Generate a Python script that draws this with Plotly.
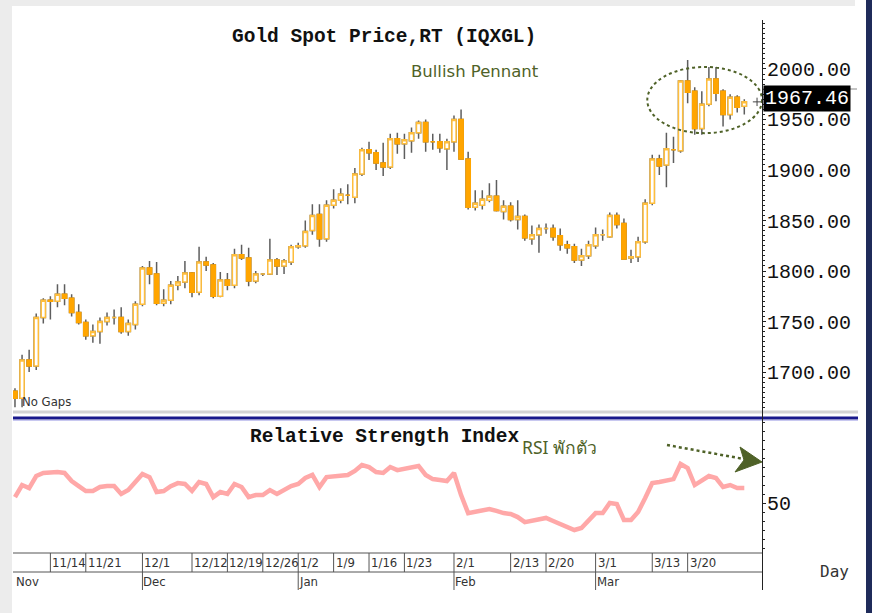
import plotly.graph_objects as go

W, H = 872, 613

# ---------------- data ----------------
opens = [1681, 1674, 1712, 1706, 1754, 1771, 1770, 1777, 1773, 1759,
         1749, 1736, 1740, 1750, 1754, 1754, 1740, 1747, 1767, 1803,
         1797, 1768, 1771, 1786, 1789, 1798, 1779, 1809, 1806, 1775,
         1791, 1786, 1816, 1813, 1790, 1797, 1797, 1811, 1805, 1809,
         1824, 1825, 1840, 1856, 1832, 1865, 1870, 1875, 1873, 1896,
         1920, 1917, 1907, 1903, 1931, 1926, 1929, 1937, 1947, 1928,
         1928, 1921, 1928, 1950, 1911, 1863, 1865, 1870, 1874, 1859,
         1864, 1851, 1854, 1832, 1836, 1842, 1842, 1835, 1826, 1824,
         1811, 1815, 1825, 1836, 1834, 1855, 1847, 1813, 1814, 1829,
         1867, 1911, 1905, 1920, 1919, 1988, 1978, 1941, 1965, 1990,
         1978, 1955, 1972, 1963]
highs = [1684, 1717, 1722, 1758, 1773, 1775, 1787, 1787, 1777, 1767,
         1752, 1747, 1754, 1759, 1762, 1764, 1752, 1770, 1805, 1810,
         1809, 1782, 1790, 1795, 1810, 1799, 1824, 1814, 1808, 1799,
         1798, 1822, 1826, 1823, 1800, 1798, 1832, 1813, 1812, 1826,
         1828, 1850, 1866, 1866, 1870, 1881, 1882, 1886, 1902, 1922,
         1928, 1920, 1927, 1936, 1937, 1936, 1942, 1949, 1950, 1936,
         1936, 1931, 1954, 1960, 1918, 1880, 1880, 1887, 1890, 1870,
         1868, 1870, 1856, 1845, 1846, 1847, 1846, 1842, 1830, 1827,
         1822, 1830, 1843, 1841, 1858, 1858, 1852, 1821, 1834, 1871,
         1915, 1915, 1937, 1933, 1989, 2009, 1982, 1978, 2002, 2002,
         1980, 1975, 1974, 1970]
lows = [1665, 1665, 1700, 1702, 1748, 1752, 1764, 1766, 1755, 1747,
        1732, 1729, 1728, 1746, 1747, 1738, 1736, 1742, 1765, 1787,
        1766, 1765, 1767, 1781, 1783, 1774, 1776, 1800, 1773, 1774,
        1781, 1783, 1811, 1785, 1788, 1795, 1796, 1796, 1797, 1806,
        1822, 1823, 1836, 1824, 1829, 1862, 1867, 1866, 1867, 1894,
        1910, 1900, 1894, 1901, 1916, 1911, 1917, 1931, 1918, 1920,
        1917, 1900, 1918, 1911, 1861, 1860, 1861, 1868, 1859, 1851,
        1849, 1841, 1830, 1826, 1818, 1837, 1830, 1820, 1817, 1808,
        1805, 1812, 1822, 1830, 1833, 1842, 1812, 1808, 1809, 1827,
        1865, 1895, 1883, 1907, 1917, 1966, 1935, 1935, 1963, 1968,
        1943, 1950, 1957, 1955]
closes = [1674, 1712, 1706, 1754, 1771, 1770, 1777, 1773, 1759, 1749,
          1736, 1740, 1750, 1754, 1754, 1740, 1748, 1767, 1803, 1797,
          1768, 1771, 1786, 1789, 1798, 1779, 1809, 1806, 1775, 1791,
          1786, 1816, 1813, 1790, 1797, 1797, 1811, 1805, 1810, 1824,
          1825, 1839, 1855, 1832, 1865, 1870, 1876, 1875, 1896, 1920,
          1917, 1907, 1903, 1931, 1926, 1930, 1937, 1947, 1928, 1928,
          1922, 1928, 1950, 1911, 1863, 1867, 1871, 1874, 1860, 1864,
          1851, 1854, 1833, 1836, 1842, 1842, 1834, 1826, 1823, 1811,
          1815, 1826, 1836, 1836, 1855, 1846, 1812, 1814, 1829, 1867,
          1911, 1904, 1921, 1920, 1988, 1977, 1941, 1965, 1990, 1976,
          1955, 1972, 1962, 1967.46]
rsi = [53.3, 60.0, 58.3, 65.0, 66.7, 67.2, 67.2, 66.7, 62.2, 59.4,
       56.7, 56.7, 58.9, 59.4, 59.4, 55.0, 57.2, 61.7, 66.1, 64.4,
       56.1, 56.7, 59.4, 61.1, 60.6, 56.7, 61.7, 60.6, 53.3, 56.1,
       55.0, 60.6, 58.9, 53.3, 54.4, 54.4, 57.2, 55.0, 57.2, 59.4,
       60.6, 63.9, 65.6, 58.9, 64.4, 65.0, 65.0, 65.6, 67.8, 71.1,
       70.0, 67.2, 66.7, 70.0, 68.3, 68.9, 69.4, 70.6, 65.6, 63.3,
       62.8, 62.2, 66.7, 54.4, 44.4, 45.0, 45.6, 46.7, 45.6, 44.4,
       43.9, 42.2, 39.4, 40.0, 41.1, 41.7, 40.0, 38.3, 37.2, 35.0,
       36.1, 40.0, 44.4, 44.4, 50.0, 49.4, 40.6, 40.6, 45.0, 52.8,
       61.1, 61.7, 62.8, 63.3, 71.7, 69.4, 60.0, 62.8, 65.0, 63.9,
       58.9, 60.0, 58.3, 58.3]

day_tick_idx = [5, 10, 18, 25, 30, 35, 40, 45, 50, 55, 62, 70, 75, 82, 90, 95]
day_tick_labels = ["11/14", "11/21", "12/1", "12/12", "12/19", "12/26", "1/2",
                   "1/9", "1/16", "1/23", "2/1", "2/13", "2/20", "3/1", "3/13", "3/20"]
month_idx = [0, 18, 40, 62, 82]
month_labels = ["Nov", "Dec", "Jan", "Feb", "Mar"]
price_ticks = [1700, 1750, 1800, 1850, 1900, 1950, 2000]
rsi_ticks = [50]

# ---------------- helpers ----------------
def px(x):
    return x / W

def py(y):
    return 1 - y / H

idx = list(range(len(closes)))
body_hi = [max(o, c) for o, c in zip(opens, closes)]
body_lo = [min(o, c) for o, c in zip(opens, closes)]

ORANGE = "#FFA500"
HOLLOW = "#FFBE3C"
WICK = "#5E5E5E"
OLIVE = "#4F6228"
MONO = "Liberation Mono, DejaVu Sans Mono, monospace"
NARROW = "DejaVu Sans Condensed, Liberation Sans Narrow, Arial Narrow, Liberation Sans, sans-serif"

fig = go.Figure()

# wicks
fig.add_trace(go.Candlestick(
    x=idx, open=opens, high=highs, low=lows, close=closes,
    increasing=dict(line=dict(color=WICK, width=1.5), fillcolor=WICK),
    decreasing=dict(line=dict(color=WICK, width=1.5), fillcolor=WICK),
    whiskerwidth=0, hoverinfo="skip", showlegend=False,
    xaxis="x", yaxis="y"))
# bodies
fig.add_trace(go.Candlestick(
    x=idx, open=opens, high=body_hi, low=body_lo, close=closes,
    increasing=dict(line=dict(color=HOLLOW, width=1.5), fillcolor="white"),
    decreasing=dict(line=dict(color=ORANGE, width=1.5), fillcolor=ORANGE),
    whiskerwidth=0, hoverinfo="skip", showlegend=False,
    xaxis="x", yaxis="y"))
# last price marker
fig.add_trace(go.Scatter(
    x=[len(closes) - 1 + 1.8], y=[closes[-1]], mode="markers",
    marker=dict(symbol="cross-thin", size=6, line=dict(color="#444", width=1)),
    hoverinfo="skip", showlegend=False, xaxis="x", yaxis="y"))
# RSI
fig.add_trace(go.Scatter(
    x=idx, y=rsi, mode="lines", line=dict(color="#FFA8A8", width=4.5),
    hoverinfo="skip", showlegend=False, xaxis="x", yaxis="y2"))

shapes = []
# frame decorations
shapes.append(dict(type="rect", xref="paper", yref="paper", x0=0, x1=px(12), y0=0, y1=1,
                   fillcolor="#ECECEC", line=dict(width=0), layer="below"))
shapes.append(dict(type="rect", xref="paper", yref="paper", x0=0, x1=px(855), y0=py(6), y1=1,
                   fillcolor="#ECECEC", line=dict(width=0), layer="below"))
shapes.append(dict(type="rect", xref="paper", yref="paper", x0=px(866), x1=1, y0=0, y1=1,
                   fillcolor="#1F2B5A", line=dict(width=0)))
# panel separators
shapes.append(dict(type="line", xref="paper", yref="paper", x0=px(13), x1=px(858),
                   y0=py(412), y1=py(412), line=dict(color="#D4D4D4", width=3)))
shapes.append(dict(type="line", xref="paper", yref="paper", x0=px(13), x1=px(858),
                   y0=py(418), y1=py(418), line=dict(color="#1A1A8C", width=3)))
shapes.append(dict(type="line", xref="paper", yref="paper", x0=px(13), x1=px(858),
                   y0=py(420.5), y1=py(420.5), line=dict(color="#C8C8F0", width=1)))
# right axis line
shapes.append(dict(type="line", xref="paper", yref="paper", x0=px(762.5), x1=px(762.5),
                   y0=py(20), y1=py(590), line=dict(color="#222", width=1)))
# last price guide
shapes.append(dict(type="line", xref="paper", yref="paper", x0=px(763), x1=px(857),
                   y0=py(89), y1=py(89), line=dict(color="#888", width=1)))
# date box lines
for yy in (553, 572):
    shapes.append(dict(type="line", xref="paper", yref="paper", x0=px(13), x1=px(762),
                       y0=py(yy), y1=py(yy), line=dict(color="#555", width=1)))
for i in day_tick_idx:
    shapes.append(dict(type="line", xref="x", yref="paper", x0=i, x1=i,
                       y0=py(553), y1=py(572), line=dict(color="#555", width=1)))
for i in month_idx[1:]:
    shapes.append(dict(type="line", xref="x", yref="paper", x0=i, x1=i,
                       y0=py(572), y1=py(590), line=dict(color="#555", width=1)))
# pennant ellipse
shapes.append(dict(type="circle", xref="x", yref="y", x0=89.3, x1=105.5, y0=1936.5, y1=2002,
                   line=dict(color=OLIVE, width=2, dash="dot")))
# dotted arrow
shapes.append(dict(type="line", xref="paper", yref="paper", x0=px(667), x1=px(744),
                   y0=py(445), y1=py(459), line=dict(color=OLIVE, width=2.5, dash="dot")))
shapes.append(dict(type="path", xref="paper", yref="paper",
                   path=f"M {px(740)},{py(447)} L {px(762)},{py(462)} L {px(735)},{py(472)} L {px(744)},{py(460)} Z",
                   fillcolor=OLIVE, line=dict(color=OLIVE, width=1)))

def note(x, y, text, font, xanchor="center", yref="paper", **kw):
    d = dict(x=x, y=y, xref="paper", yref=yref, showarrow=False, text=text,
             xanchor=xanchor, yanchor="middle", font=font)
    d.update(kw)
    return d

ann = []
ann.append(note(px(384), py(37), "Gold Spot Price,RT (IQXGL)",
                dict(family=MONO, size=19.5, color="#111", weight="bold")))
ann.append(note(px(384), py(437), "Relative Strength Index",
                dict(family=MONO, size=19.5, color="#111", weight="bold")))
ann.append(note(px(475), py(71), "Bullish Pennant",
                dict(family="DejaVu Sans", size=16.5, color=OLIVE)))
ann.append(note(px(520), py(447), "RSI พักตัว",
                dict(family="Noto Sans, DejaVu Sans", size=17.5, color=OLIVE), xanchor="left"))
ann.append(note(px(20), py(401), "No Gaps",
                dict(family=NARROW, size=13, color="#333"), xanchor="left"))
ann.append(note(px(834), py(571), "Day",
                dict(family="DejaVu Sans Mono", size=16, color="#333")))
ann.append(note(px(807), closes[-1], f"{closes[-1]:.2f}",
                dict(family=MONO, size=20, color="white"), yref="y",
                bgcolor="black", borderpad=1, yshift=3))
for i, lab in zip(day_tick_idx, day_tick_labels):
    ann.append(dict(x=i, y=py(562.5), xref="x", yref="paper", showarrow=False,
                    xanchor="left", yanchor="middle", text=lab,
                    font=dict(family=NARROW, size=13, color="#333")))
for i, lab in zip(month_idx, month_labels):
    ann.append(dict(x=i, y=py(581), xref="x", yref="paper", showarrow=False,
                    xanchor="left", yanchor="middle", xshift=-1, text=lab,
                    font=dict(family=NARROW, size=13, color="#333")))

fig.update_layout(
    width=W, height=H, margin=dict(l=0, r=0, t=0, b=0),
    paper_bgcolor="white", plot_bgcolor="white",
    showlegend=False, boxgap=0.15,
    xaxis=dict(domain=[px(13), px(762)], range=[-0.28, 105.5], anchor="y2",
               showticklabels=False, showgrid=False, zeroline=False, showline=False,
               ticks="", rangeslider=dict(visible=False)),
    yaxis=dict(domain=[py(410), py(20)], range=[1662.4, 2048.5], side="right", anchor="x",
               tickvals=price_ticks, tickformat=".2f", ticks="outside", ticklen=3,
               ticklabelstandoff=-3,
               tickcolor="#222", showgrid=False, zeroline=False, showline=False,
               tickfont=dict(family=MONO, size=20, color="#111"),
               minor=dict(ticks="outside", ticklen=2, dtick=5, tickcolor="#222", showgrid=False)),
    yaxis2=dict(domain=[py(548), py(421)], range=[25, 95.6], side="right", anchor="x",
                tickvals=rsi_ticks, ticks="outside", ticklen=3, ticklabelstandoff=-3,
                tickcolor="#222", showgrid=False, zeroline=False, showline=False,
                tickfont=dict(family=MONO, size=20, color="#111"),
                minor=dict(ticks="outside", ticklen=2, dtick=5, tickcolor="#222", showgrid=False)),
    shapes=shapes, annotations=ann,
)

fig.write_html("out.html", config={"displayModeBar": False},
               post_script="document.body.style.margin='0';document.body.style.overflow='hidden';")
